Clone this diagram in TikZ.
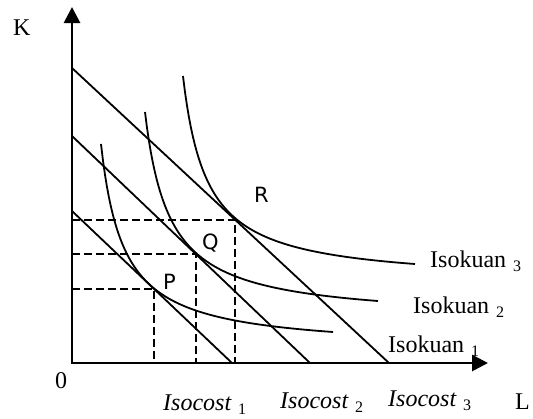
\documentclass[tikz,border=0pt]{standalone}
\usepackage{fontspec}
\setmainfont{Liberation Serif}
\newfontfamily\labfont{DejaVu Sans}
\usetikzlibrary{arrows.meta,calc}
\newcommand{\subidx}[1]{\hspace{7pt}\raisebox{-4pt}{\fontsize{16}{16}\selectfont\upshape #1}}
\begin{document}
\begin{tikzpicture}[x=1pt,y=-1pt,
  axis/.style={line width=2.8pt, line cap=rect, -{Triangle[length=16pt,width=16pt]}},
  curve/.style={line width=1.8pt},
  guide/.style={line width=1.8pt, dash pattern=on 8pt off 4pt},
  txt/.style={inner sep=0pt, anchor=base west, font=\fontsize{24}{28}\selectfont},
  ptlab/.style={inner sep=0pt, anchor=base west, font=\labfont\fontsize{21}{24}\selectfont},
]
\useasboundingbox (0,0) rectangle (533,418);
% axes
\coordinate (O) at (72,363);
\coordinate (Ktop) at (72,7);
\coordinate (Lend) at (488,363);
\draw[axis] (O) -- (Ktop);
\draw[axis] (O) -- (Lend);
% isocost lines
\coordinate (c1a) at (72,211);  \coordinate (c1b) at (232,363);
\coordinate (c2a) at (72,136);  \coordinate (c2b) at (310,363);
\coordinate (c3a) at (72,68);   \coordinate (c3b) at (389,363);
\draw[curve] (c1a) -- (c1b);
\draw[curve] (c2a) -- (c2b);
\draw[curve] (c3a) -- (c3b);
% tangency points
\coordinate (P) at ($(c1a)!0.5125!(c1b)$);
\coordinate (Q) at ($(c2a)!0.521!(c2b)$);
\coordinate (R) at ($(c3a)!0.5142!(c3b)$);
% isoquants
\draw[curve] plot[domain=101:333, samples=120] (\x, {363-12.55-4701/(\x-78.23)});
\draw[curve] plot[domain=145:378, samples=120] (\x, {363-42.07-5133/(\x-120.43)});
\draw[curve] plot[domain=183:415, samples=120] (\x, {363-79.59-4967/(\x-159.05)});
% dashed guides
\foreach \p in {P,Q,R}{
  \draw[guide] (O |- \p) -- (\p) -- (\p |- O);
}
% labels
\node[txt] (lK) at (13,35) {K};
\node[txt] (l0) at (55,388) {0};
\node[txt] (lL) at (515,409) {L};
\node[txt] (ic1) at (163,410) {\itshape Isocost\subidx{1}};
\node[txt] (ic2) at (280,408) {\itshape Isocost\subidx{2}};
\node[txt] (ic3) at (388,406) {\itshape Isocost\subidx{3}};
\node[txt] (iq3) at (430,267) {Isokuan\subidx{3}};
\node[txt] (iq2) at (413,313) {Isokuan\subidx{2}};
\node[txt] (iq1) at (388,352) {Isokuan\subidx{1}};
\node[ptlab] (lP) at (163,289) {P};
\node[ptlab] (lQ) at (202,249) {Q};
\node[ptlab] (lR) at (254,202) {R};
\end{tikzpicture}
\end{document}
